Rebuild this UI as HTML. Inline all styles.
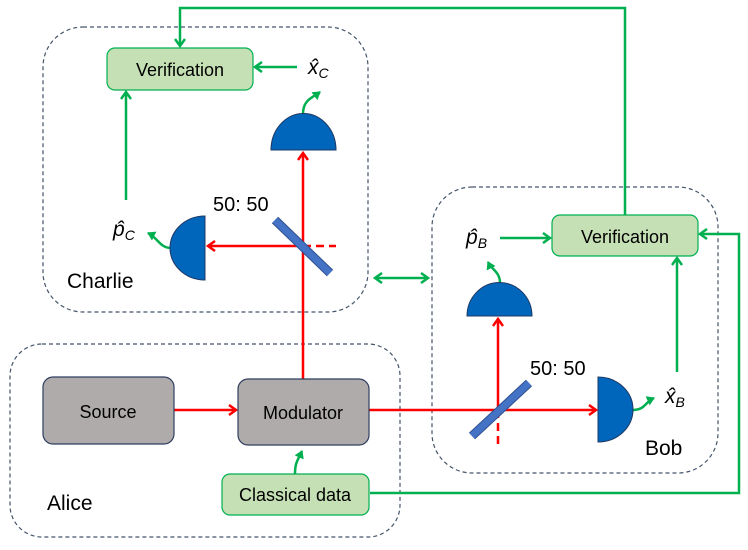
<!DOCTYPE html>
<html><head><meta charset="utf-8"><style>
html,body{margin:0;padding:0;background:#fff;}
svg{display:block;}
text{font-family:"Liberation Sans",sans-serif;}
.m{font-family:"Liberation Serif",serif;font-style:italic;}
</style></head><body>
<svg width="748" height="550" viewBox="0 0 748 550" xmlns="http://www.w3.org/2000/svg">
<defs>
<marker id="ag" markerWidth="10" markerHeight="12" refX="8" refY="6" orient="auto" markerUnits="userSpaceOnUse"><path d="M1,1 L8,6 L1,11" fill="none" stroke="#00b050" stroke-width="2.5"/></marker>
<marker id="ags" markerWidth="10" markerHeight="12" refX="2" refY="6" orient="auto" markerUnits="userSpaceOnUse"><path d="M9,1 L2,6 L9,11" fill="none" stroke="#00b050" stroke-width="2.5"/></marker>
<marker id="ar" markerWidth="10" markerHeight="12" refX="8" refY="6" orient="auto" markerUnits="userSpaceOnUse"><path d="M1,1 L8,6 L1,11" fill="none" stroke="#ff0000" stroke-width="2.5"/></marker>
<marker id="at" markerWidth="10" markerHeight="10" refX="7" refY="5" orient="auto" markerUnits="userSpaceOnUse"><path d="M0,0 L8,5 L0,10 Z" fill="#00b050"/></marker>
</defs>
<g fill="none" stroke="#44546a" stroke-width="1.2" stroke-dasharray="4,3">
<rect x="43" y="27" width="325" height="285" rx="40"/>
<rect x="10" y="344" width="390" height="193" rx="32"/>
<rect x="432" y="187" width="286" height="286" rx="40"/>
</g>
<g fill="none" stroke="#00b050" stroke-width="2.5">
<polyline points="625,215 625,8 180,8 180,46" marker-end="url(#ag)"/>
<polyline points="370,493 739,493 739,234 700,234" marker-end="url(#ag)"/>
<line x1="297" y1="67" x2="255" y2="67" marker-end="url(#ag)"/>
<line x1="126" y1="200" x2="126" y2="92" marker-end="url(#ag)"/>
<line x1="500" y1="238" x2="550" y2="238" marker-end="url(#ag)"/>
<line x1="677" y1="372" x2="677" y2="258" marker-end="url(#ag)"/>
<line x1="375" y1="278" x2="428" y2="278" marker-end="url(#ag)" marker-start="url(#ags)"/>
<path d="M303,114 C303,100 312,98 320,92" marker-end="url(#at)"/>
<path d="M171,248 C160,248 158,238 148,233" marker-end="url(#at)"/>
<path d="M500,283 C500,272 492,270 488,262" marker-end="url(#at)"/>
<path d="M633,410 C645,410 645,402 654,398" marker-end="url(#at)"/>
<path d="M295,474 C295,462 298,460 302,451" marker-end="url(#at)"/>
</g>
<g fill="none" stroke="#ff0000" stroke-width="2.5">
<line x1="303" y1="379" x2="303" y2="153" marker-end="url(#ar)"/>
<line x1="303" y1="246" x2="208" y2="246" marker-end="url(#ar)"/>
<line x1="303" y1="246" x2="336" y2="246" stroke-dasharray="8,5"/>
<line x1="174" y1="410" x2="236" y2="410" marker-end="url(#ar)"/>
<line x1="369" y1="410" x2="596" y2="410" marker-end="url(#ar)"/>
<line x1="498" y1="410" x2="498" y2="319" marker-end="url(#ar)"/>
<line x1="498" y1="410" x2="498" y2="447" stroke-dasharray="8,5"/>
</g>
<line x1="275" y1="220" x2="330" y2="273" stroke="#2f4f8f" stroke-width="9"/>
<line x1="275" y1="220" x2="330" y2="273" stroke="#4472c4" stroke-width="7"/>
<line x1="472" y1="436" x2="529" y2="383" stroke="#2f4f8f" stroke-width="9"/>
<line x1="472" y1="436" x2="529" y2="383" stroke="#4472c4" stroke-width="7"/>
<g fill="#0066bb" stroke="#1f3864" stroke-width="1">
<path d="M271,150 A32,36 0 0 1 336,150 Z"/>
<path d="M205,216 L205,280 A35,32 0 0 1 205,216 Z"/>
<path d="M467,316 A32,33 0 0 1 532,316 Z"/>
<path d="M598,377 L598,442 A35,32.5 0 0 0 598,377 Z"/>
</g>
<g stroke="#00b050" stroke-width="1.2" fill="#c5e0b4">
<rect x="107" y="48" width="146" height="42" rx="8"/>
<rect x="552" y="215" width="146" height="41" rx="8"/>
<rect x="222" y="474" width="147" height="41" rx="8"/>
</g>
<g stroke="#2f3f5f" stroke-width="1.2" fill="#afabab">
<rect x="43" y="377" width="131" height="67" rx="10"/>
<rect x="238" y="379" width="131" height="66" rx="10"/>
</g>
<g font-size="18" fill="#000" text-anchor="middle">
<text x="180" y="76">Verification</text>
<text x="625" y="243">Verification</text>
<text x="295" y="501">Classical data</text>
<text x="108" y="418">Source</text>
<text x="303" y="419">Modulator</text>
</g>
<g font-size="21" fill="#000">
<text x="67" y="288">Charlie</text>
<text x="47" y="510">Alice</text>
<text x="645" y="455">Bob</text>
</g>
<g font-size="20" fill="#000" font-family="Liberation Serif,serif">
<text x="213" y="211">50: 50</text>
<text x="530" y="375">50: 50</text>
</g>
<g class="m" font-size="21" fill="#000">
<text x="308" y="74">x̂<tspan font-size="14" dy="4">C</tspan></text>
<text x="113" y="236">p̂<tspan font-size="14" dy="4">C</tspan></text>
<text x="466" y="244">p̂<tspan font-size="14" dy="4">B</tspan></text>
<text x="665" y="403">x̂<tspan font-size="14" dy="4">B</tspan></text>
</g>
</svg>
</body></html>
